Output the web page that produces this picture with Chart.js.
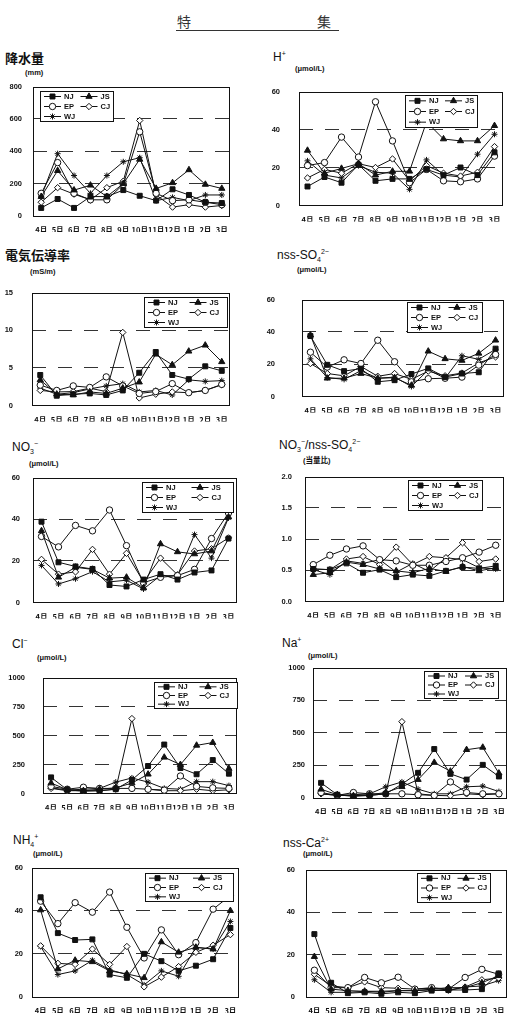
<!DOCTYPE html>
<html>
<head>
<meta charset="utf-8">
<script src="https://cdn.jsdelivr.net/npm/chart.js@4"></script>
<style>
  body { margin: 0; background: #fff; width: 511px; height: 1021px; position: relative; overflow: hidden;
         font-family: "Liberation Sans", "Noto Sans CJK JP", sans-serif; color: #111; }
  .abs { position: absolute; white-space: nowrap; line-height: 1; }
  .title { font-size: 12px; }
  .title.jp { font-size: 13px; font-weight: bold; font-family: "Noto Sans CJK JP", sans-serif; }
  .unit { font-size: 7.5px; font-weight: bold; }
  sub, sup { font-size: 7px; line-height: 0; }
  .head { font-size: 14px; font-family: "Noto Sans CJK JP", sans-serif; color: #333; }
</style>
</head>
<body>
<div class="abs head" style="left:177px;top:14px">特</div>
<div class="abs head" style="left:317px;top:14px">集</div>
<div class="abs" style="left:176px;top:30px;width:163px;height:1px;background:#333"></div>

<script>
const months = ["4月", "5月", "6月", "7月", "8月", "9月", "10月", "11月", "12月", "1月", "2月", "3月"];
const stations = ["NJ", "JS", "EP", "CJ", "WJ"];

// 降水量 (mm)
const rainNJ = [50, 105, 50, 120, 120, 160, 125, 95, 165, 130, 85, 80];
const rainJS = [120, 280, 160, 190, 120, 200, 350, 170, 205, 285, 195, 170];
const rainEP = [140, 330, 140, 100, 100, 195, 520, 140, 95, 100, 85, 70];
const rainCJ = [85, 175, 135, 100, 175, 215, 590, 130, 55, 70, 55, 65];
const rainWJ = [120, 385, 250, 140, 250, 335, 360, 95, 115, 95, 130, 130];

// H+ (umol/L)
const hNJ = [10, 15, 12, 21.5, 13, 14, 14, 19, 16, 20, 16, 28];
const hJS = [29, 17, 19.5, 22, 16, 18, 18, 44, 35, 34, 34, 42];
const hEP = [21, 22.6, 36, 25.5, 54.6, 34, 12, 19, 13, 12.5, 14, 26];
const hCJ = [14.5, 19, 17, 22, 20, 24.5, 13, 21, 17, 15.5, 17.5, 31];
const hWJ = [23.5, 16, 14.5, 21, 17.5, 17, 8.5, 24, 16, 15, 27, 37.5];

// 電気伝導率 (mS/m)
const ecNJ = [4.05, 1.3, 1.5, 1.6, 1.4, 2.0, 4.35, 7.1, 4.05, 3.5, 5.2, 4.6];
const ecJS = [3.4, 1.5, 1.4, 1.8, 1.6, 2.3, 3.1, 6.8, 5.4, 7.2, 8.0, 5.8];
const ecEP = [2.7, 2.0, 2.6, 2.4, 3.8, 2.6, 1.6, 1.85, 2.9, 1.7, 2.0, 2.8];
const ecCJ = [2.0, 1.8, 1.85, 2.3, 1.85, 9.7, 1.0, 1.5, 1.8, 1.7, 2.0, 2.75];
const ecWJ = [2.3, 1.5, 1.7, 2.2, 2.6, 2.9, 1.8, 2.0, 1.4, 3.4, 3.2, 3.3];

// nss-SO4 2- (umol/L)
const so4NJ = [37.4, 19.6, 15.7, 17.2, 9.1, 10.1, 13.9, 17.4, 12, 14.2, 15, 29.6];
const so4JS = [38, 11.3, 11.3, 14.2, 11.3, 11.6, 6.9, 28, 23.3, 22.3, 26.7, 34.8];
const so4EP = [27.4, 18.2, 22.7, 20.4, 34.8, 21.5, 9.1, 11, 11.3, 12, 19.4, 26];
const so4CJ = [20.4, 14.2, 12.8, 18.6, 12.5, 14.2, 10.6, 15.7, 12.8, 14.5, 20.8, 24.5];
const so4WJ = [23.3, 11.7, 10.6, 16, 11.3, 12, 6.2, 16.4, 11.3, 25.2, 23, 29.2];

// NO3- (umol/L)
const no3NJ = [38.8, 19.3, 17.3, 16.1, 8.4, 7.7, 11, 13.6, 11, 14.4, 15.4, 30.7];
const no3JS = [34.4, 12.1, 16.9, 15.9, 11.7, 12.1, 7, 28.1, 24.3, 23.3, 24.7, 41];
const no3EP = [31.7, 26.7, 37, 34.4, 44.4, 27.3, 9.5, 12.1, 12.9, 15.9, 30.7, 43];
const no3CJ = [20.7, 13.6, 14.7, 25.5, 13.6, 23.6, 9.9, 21.3, 13.3, 24.7, 25.8, 31];
const no3WJ = [17.8, 8.9, 11.4, 14.8, 9.9, 10.7, 6.5, 12.9, 12.9, 32.6, 21.3, 40.6];

// NO3- / nss-SO4 2- (当量比)
const ratNJ = [0.52, 0.51, 0.61, 0.46, 0.51, 0.39, 0.43, 0.41, 0.49, 0.55, 0.53, 0.57];
const ratJS = [0.43, 0.46, 0.63, 0.59, 0.52, 0.49, 0.46, 0.53, 0.48, 0.56, 0.49, 0.54];
const ratEP = [0.59, 0.74, 0.84, 0.89, 0.67, 0.65, 0.58, 0.58, 0.64, 0.70, 0.79, 0.90];
const ratCJ = [0.52, 0.51, 0.68, 0.72, 0.59, 0.87, 0.59, 0.72, 0.70, 0.94, 0.64, 0.68];
const ratWJ = [0.51, 0.43, 0.65, 0.61, 0.67, 0.47, 0.61, 0.48, 0.70, 0.67, 0.54, 0.52];

// Cl- (umol/L)
const clNJ = [139, 32, 20, 24, 37, 117, 237, 422, 220, 166, 288, 171];
const clJS = [90, 32, 24, 37, 49, 90, 166, 312, 249, 415, 439, 215];
const clEP = [61, 37, 54, 44, 44, 44, 37, 29, 151, 61, 49, 44];
const clCJ = [44, 24, 24, 24, 37, 646, 37, 24, 24, 37, 24, 32];
const clWJ = [49, 29, 37, 44, 98, 134, 98, 44, 37, 102, 102, 68];

// Na+ (umol/L)
const naNJ = [116, 25, 12, 20, 32, 106, 193, 375, 185, 141, 254, 165];
const naJS = [67, 25, 17, 25, 42, 86, 141, 272, 205, 370, 388, 190];
const naEP = [42, 20, 42, 32, 32, 32, 25, 20, 123, 42, 32, 32];
const naCJ = [32, 20, 20, 20, 32, 585, 32, 20, 17, 32, 25, 32];
const naWJ = [32, 20, 25, 32, 86, 123, 67, 32, 32, 86, 91, 49];

// NH4+ (umol/L)
const nh4NJ = [46.2, 29.6, 26.4, 26.7, 10.4, 8.9, 20, 16.6, 12.1, 14.5, 17.5, 32];
const nh4JS = [40.3, 13, 17, 16.3, 12.1, 10.7, 8.9, 25.5, 20.7, 23, 22.2, 40];
const nh4EP = [44.4, 34, 43.7, 39.3, 48.6, 32.3, 18.1, 31.1, 19.6, 25.2, 40.7, 47];
const nh4CJ = [23.7, 15.6, 15.1, 22.2, 15.1, 23.4, 4.7, 9.2, 14.1, 20.7, 24, 28.9];
const nh4WJ = [23.4, 10.4, 12.1, 17, 12.6, 10.4, 5.6, 12.1, 9.6, 23, 22.2, 35];

// nss-Ca2+ (umol/L)
const caNJ = [29.6, 6.7, 1.8, 2.2, 1.5, 2.2, 1.8, 3, 3.3, 3.3, 3.7, 11.1];
const caJS = [19, 3.7, 3, 2.7, 2.7, 3, 3, 3.7, 4.4, 4.4, 6.7, 10];
const caEP = [12.6, 4.4, 4.4, 9.2, 6.7, 9.3, 3.7, 4.4, 3.7, 9.2, 13, 10.7];
const caCJ = [10.7, 5.2, 4.4, 7.1, 4.4, 4.1, 3.7, 4.1, 3.3, 4.7, 8.1, 8.9];
const caWJ = [8.1, 2.2, 2.2, 2.7, 2.2, 3, 3, 3.3, 3, 4.7, 5.2, 7.7];

// y axis ranges: [max, step]
const rainAxis = [800, 200], hAxis = [60, 20], ecAxis = [15, 5], so4Axis = [60, 20], no3Axis = [60, 20];
const ratAxis = [2, 0.5], clAxis = [1000, 250], naAxis = [1000, 250], nh4Axis = [60, 20], caAxis = [60, 20];

const markers = {
  NJ: { style: "rect", r: 3.5, fill: "#111" },
  JS: { style: "triangle", r: 3.6, fill: "#111" },
  EP: { style: "circle", r: 3.2, fill: "#fff" },
  CJ: { style: "rectRot", r: 3.2, fill: "#fff" },
  WJ: { style: "star", r: 3, fill: "#111" }
};

// plot: chart area box in page px; leg: legend box relative to chart area
const panels = [
  { title: "降水量", jp: true, t: [5, 51], unit: "(mm)", u: [25, 69], plot: [33, 79, 230, 216], pad: 11,
    axis: rainAxis, series: [rainNJ, rainJS, rainEP, rainCJ, rainWJ], leg: [7, 4, 73, 30] },
  { title: "H<sup>+</sup>", t: [273, 51], unit: "(μmol/L)", u: [295, 65], plot: [299, 76, 503, 213], pad: 19,
    axis: hAxis, series: [hNJ, hJS, hEP, hCJ, hWJ], leg: [106, 3, 72, 32] },
  { title: "電気伝導率", jp: true, t: [5, 248], unit: "(mS/m)", u: [30, 268], plot: [32, 277, 230, 413], pad: 19,
    axis: ecAxis, series: [ecNJ, ecJS, ecEP, ecCJ, ecWJ], leg: [112, 4, 83, 30] },
  { title: "nss-SO<sub>4</sub><sup>2−</sup>", t: [277, 249], unit: "(μmol/L)", u: [297, 266], plot: [302, 276, 504, 412], pad: 27,
    axis: so4Axis, series: [so4NJ, so4JS, so4EP, so4CJ, so4WJ], leg: [105, 2, 75, 30] },
  { title: "NO<sub>3</sub><sup>−</sup>", t: [12, 441], unit: "(μmol/L)", u: [29, 460], plot: [33, 468, 237, 604], pad: 13,
    axis: no3Axis, series: [no3NJ, no3JS, no3EP, no3CJ, no3WJ], leg: [109, 4, 91, 30] },
  { title: "NO<sub>3</sub><sup>−</sup>/nss-SO<sub>4</sub><sup>2−</sup>", t: [279, 439], unit: "(当量比)", u: [303, 457], plot: [305, 467, 504, 603], pad: 13,
    axis: ratAxis, series: [ratNJ, ratJS, ratEP, ratCJ, ratWJ], leg: [103, 3, 74, 30], fixed: 1 },
  { title: "Cl<sup>−</sup>", t: [12, 638], unit: "(μmol/L)", u: [37, 654], plot: [43, 663, 237, 800], pad: 18,
    axis: clAxis, series: [clNJ, clJS, clEP, clCJ, clWJ], leg: [111, 4, 83, 26] },
  { title: "Na<sup>+</sup>", t: [282, 637], unit: "(μmol/L)", u: [308, 652], plot: [313, 663, 507, 798], pad: 8,
    axis: naAxis, series: [naNJ, naJS, naEP, naCJ, naWJ], leg: [111, 3, 74, 27] },
  { title: "NH<sub>4</sub><sup>+</sup>", t: [13, 834], unit: "(μmol/L)", u: [33, 850], plot: [32, 862, 239, 997], pad: 9,
    axis: nh4Axis, series: [nh4NJ, nh4JS, nh4EP, nh4CJ, nh4WJ], leg: [113, 5, 88, 28] },
  { title: "nss-Ca<sup>2+</sup>", t: [283, 837], unit: "(μmol/L)", u: [303, 850], plot: [306, 862, 507, 997], pad: 11,
    axis: caAxis, series: [caNJ, caJS, caEP, caCJ, caWJ], leg: [111, 3, 73, 29] }
];

const tickFont = { family: '"Liberation Sans", sans-serif', size: 7.5, weight: "bold" };
const monthFont = { family: '"Noto Sans CJK JP", sans-serif', size: 7.5, weight: "bold" };
const AXW = 40, PADT = 8, PADR = 6, XAH = 16;

// black box round the plot area
const frame = {
  id: "frame",
  beforeDatasetsDraw(chart) {
    const { ctx, chartArea: a } = chart;
    ctx.save();
    ctx.strokeStyle = "#111";
    ctx.lineWidth = 1;
    ctx.strokeRect(Math.round(a.left) + 0.5, Math.round(a.top) + 0.5, Math.round(a.right - a.left) - 1, Math.round(a.bottom - a.top) - 1);
    ctx.restore();
  }
};

// boxed legend inside the plot, two columns
const legendBox = {
  id: "legendBox",
  afterDatasetsDraw(chart, args, opts) {
    const { ctx, chartArea } = chart;
    const x = Math.round(chartArea.left + opts.x), y = Math.round(chartArea.top + opts.y), w = opts.w, h = opts.h;
    ctx.save();
    ctx.fillStyle = "#fff";
    ctx.fillRect(x, y, w, h);
    ctx.strokeStyle = "#111";
    ctx.lineWidth = 1;
    ctx.strokeRect(x + 0.5, y + 0.5, w, h);
    ctx.font = 'bold 7.5px "Liberation Sans", sans-serif';
    ctx.textBaseline = "middle";
    chart.data.datasets.forEach((ds, i) => {
      const col = i % 2, row = Math.floor(i / 2);
      const cx = x + 4 + col * w * 0.5, cy = y + h * (row * 2 + 1) / 6 + 0.5;
      ctx.strokeStyle = "#111";
      ctx.beginPath(); ctx.moveTo(cx, cy); ctx.lineTo(cx + 17, cy); ctx.stroke();
      ctx.fillStyle = ds.pointBackgroundColor;
      Chart.helpers.drawPoint(ctx, { pointStyle: ds.pointStyle, radius: ds.pointRadius, borderWidth: 1, rotation: 0 }, cx + 8.5, cy);
      ctx.fillStyle = "#111";
      ctx.fillText(ds.label, cx + 20, cy);
    });
    ctx.restore();
  }
};

function addText(cls, html, x, y) {
  const d = document.createElement("div");
  d.className = "abs " + cls;
  d.style.left = x + "px";
  d.style.top = y + "px";
  d.innerHTML = html;
  document.body.appendChild(d);
}

panels.forEach(p => {
  addText("title" + (p.jp ? " jp" : ""), p.title, p.t[0], p.t[1]);
  addText("unit", p.unit, p.u[0], p.u[1]);

  const [L, T, R, B] = p.plot;
  const w = R - L + AXW + PADR, h = B - T + PADT + XAH;
  const box = document.createElement("div");
  box.className = "abs";
  box.style.left = (L - AXW) + "px";
  box.style.top = (T - PADT) + "px";
  const cv = document.createElement("canvas");
  cv.width = w; cv.height = h;
  cv.style.width = w + "px"; cv.style.height = h + "px";
  box.appendChild(cv);
  document.body.appendChild(box);

  const [max, step] = p.axis;
  new Chart(cv.getContext("2d"), {
    type: "line",
    data: {
      labels: months,
      datasets: stations.map((s, i) => ({
        label: s,
        data: p.series[i],
        borderColor: "#111",
        borderWidth: 1,
        tension: 0,
        fill: false,
        pointStyle: markers[s].style,
        pointRadius: markers[s].r,
        pointBackgroundColor: markers[s].fill,
        pointBorderColor: "#111",
        pointBorderWidth: 1
      }))
    },
    options: {
      responsive: false,
      animation: false,
      devicePixelRatio: 1,
      layout: { padding: { top: PADT, right: PADR, left: 0, bottom: 0 } },
      plugins: { legend: { display: false }, tooltip: { enabled: false }, legendBox: { x: p.leg[0], y: p.leg[1], w: p.leg[2], h: p.leg[3] } },
      scales: {
        x: {
          offset: true,
          grid: { display: false },
          border: { display: false },
          ticks: { font: monthFont, color: "#111", padding: 2, autoSkip: false, maxRotation: 0 },
          afterFit: s => { s.height = XAH; }
        },
        y: {
          min: 0, max: max,
          grid: {
            drawTicks: false,
            lineWidth: 1,
            color: c => (c.tick && c.tick.value > 0 && c.tick.value < max) ? "#333" : "rgba(0,0,0,0)"
          },
          border: { display: false, dash: [14, 12] },
          ticks: {
            stepSize: step, font: tickFont, color: "#111", padding: p.pad,
            callback: v => p.fixed ? v.toFixed(p.fixed) : v
          },
          afterFit: s => { s.width = AXW; }
        }
      }
    },
    plugins: [frame, legendBox]
  });
});
</script>
</body>
</html>
